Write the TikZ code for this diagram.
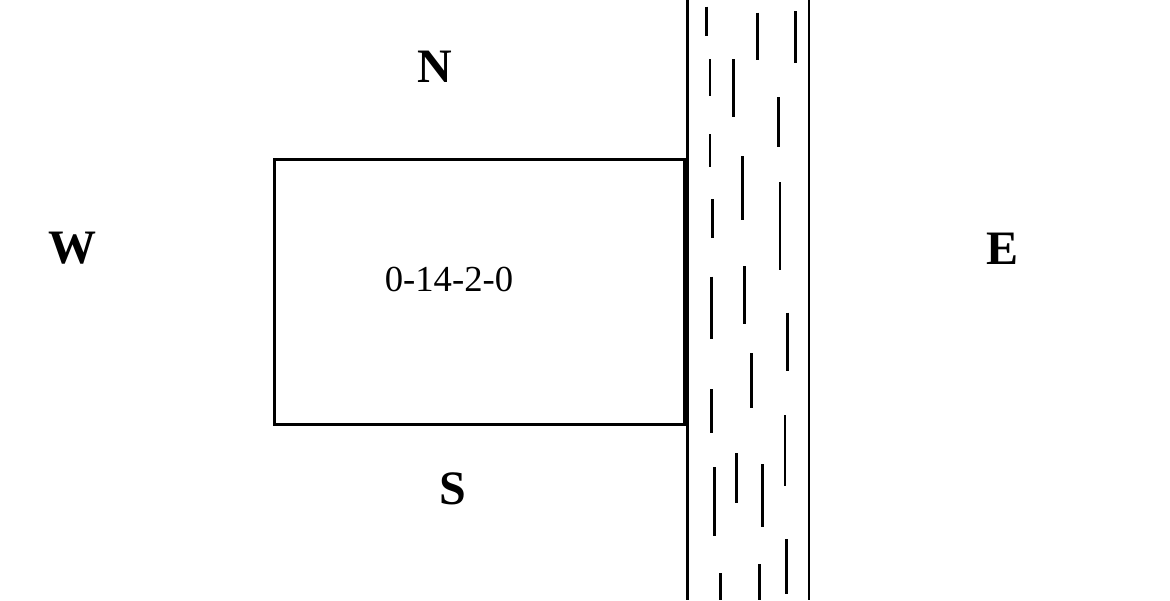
\documentclass[tikz,border=0pt]{standalone}
\usepackage{fontspec}
\setmainfont{Liberation Serif}
\begin{document}
\begin{tikzpicture}[x=0.75pt,y=-0.75pt,
  dir/.style={font=\fontsize{36}{40}\selectfont\bfseries, inner sep=0pt},
  plot/.style={draw, line width=2.6pt, minimum width=410*0.75pt, minimum height=265*0.75pt, inner sep=0pt},
  bank/.style={line width=2.2pt},
  ripple/.style={line width=1.9pt}]
\useasboundingbox (0,0) rectangle (1170,600);
\node[plot] (plot) at (479.5,291.8) {};
\node[font=\fontsize{27.5}{30}\selectfont, inner sep=0pt] (lbl) at (449,279) {0-14-2-0};
\node[dir] (n) at (434.5,66.7) {N};
\node[dir] (w) at (72,248.3) {W};
\node[dir] (e) at (1002,248.5) {E};
\node[dir] (s) at (452.5,488.5) {S};
% river banks
\coordinate (lt) at (687.3,0); \coordinate (lb) at (687.3,600);
\coordinate (rt) at (809,0); \coordinate (rb) at (809,600);
\draw[bank] (lt) -- (lb);
\draw[bank] (rt) -- (rb);
% ripples
\foreach \x/\a/\b in {706.7/6.7/36, 757.7/12.7/60, 795.3/11/63, 710/59/96, 733.7/59/117,
  778.7/97/147, 710/134/167, 742.7/156/220, 780/182/270, 712.7/199/238,
  711.7/276.7/339, 744.3/266/324, 787.7/312.7/371, 751.7/353/408, 711.7/389/433,
  785/415/486, 736.7/453/503, 762.3/464/527, 714.3/467/536, 786.3/539/594,
  759.3/564/600, 720.3/573/600}
  \draw[ripple] (\x,\a) -- (\x,\b);
\end{tikzpicture}
\end{document}
